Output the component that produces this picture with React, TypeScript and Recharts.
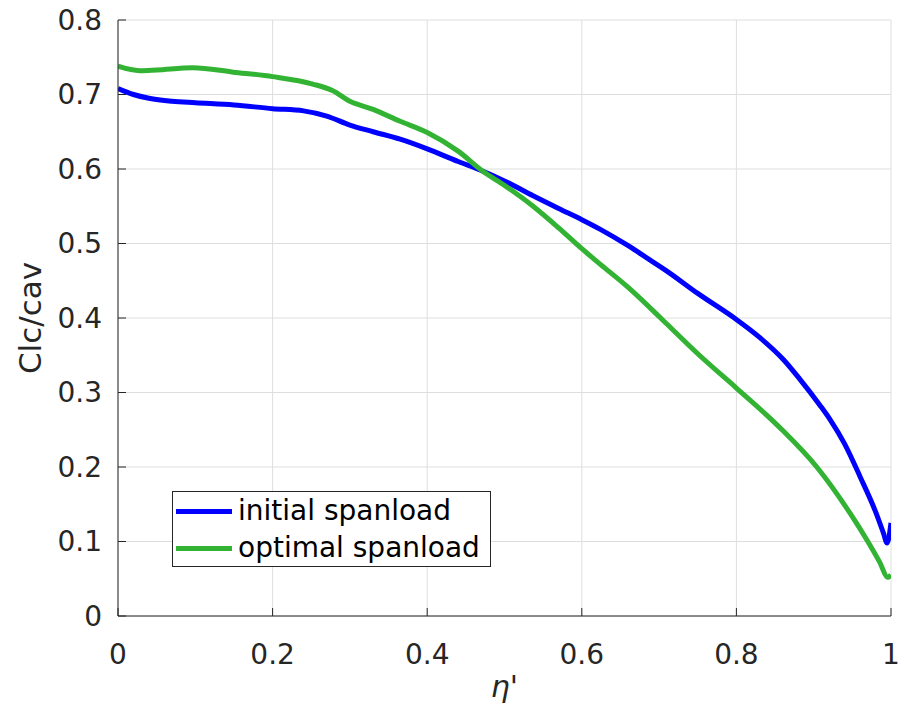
import { LineChart, Line, XAxis, YAxis, CartesianGrid } from "recharts";

// spanwise station eta'
const initialEta = [
  0, 0.02, 0.04, 0.07, 0.1, 0.15, 0.2, 0.24, 0.27, 0.3, 0.33, 0.365, 0.4, 0.44, 0.47, 0.5,
  0.537, 0.57, 0.6, 0.624, 0.66, 0.688, 0.71, 0.75, 0.8, 0.83, 0.861, 0.882, 0.908, 0.921,
  0.94, 0.96, 0.98, 0.99, 0.995, 1,
];
const initialLoad = [
  0.708, 0.7, 0.695, 0.691, 0.689, 0.686, 0.681, 0.678, 0.671, 0.659, 0.65, 0.64, 0.627, 0.61,
  0.598, 0.584, 0.564, 0.547, 0.532, 0.519, 0.497, 0.478, 0.463, 0.433, 0.398, 0.374, 0.344,
  0.318, 0.283, 0.264, 0.231, 0.187, 0.14, 0.112, 0.098, 0.125,
];

const optimalEta = [
  0, 0.028, 0.05, 0.097, 0.149, 0.2, 0.252, 0.278, 0.3, 0.33, 0.365, 0.4, 0.44, 0.472, 0.5,
  0.537, 0.57, 0.6, 0.624, 0.66, 0.688, 0.71, 0.75, 0.8, 0.843, 0.86, 0.904, 0.947, 0.97,
  0.985, 0.996, 1,
];
const optimalLoad = [
  0.738, 0.732, 0.733, 0.736, 0.73, 0.724, 0.714, 0.705, 0.691, 0.68, 0.664, 0.649, 0.624,
  0.597, 0.578, 0.55, 0.521, 0.493, 0.472, 0.441, 0.414, 0.392, 0.352, 0.306, 0.266, 0.249, 0.2,
  0.138, 0.1, 0.073, 0.052, 0.055,
];

const xTicks = [0, 0.2, 0.4, 0.6, 0.8, 1];
const yTicks = [0, 0.1, 0.2, 0.3, 0.4, 0.5, 0.6, 0.7, 0.8];

const initialData = initialEta.map((x, i) => ({ x, y: initialLoad[i] }));
const optimalData = optimalEta.map((x, i) => ({ x, y: optimalLoad[i] }));

const FONT = "'DejaVu Sans', sans-serif";
const BLUE = "#0000ff";
const GREEN = "#33b333";

const legendItems = [
  { name: "initial spanload", color: BLUE },
  { name: "optimal spanload", color: GREEN },
];

// legend drawn as a plain box over the plot so it does not eat plot space
const LegendBox = () => (
  <div
    style={{
      position: "absolute",
      left: 172,
      top: 491,
      width: 317,
      height: 74,
      border: "1px solid #262626",
      background: "#fff",
      fontFamily: FONT,
      fontSize: 28,
      color: "#000",
    }}
  >
    {legendItems.map((it) => (
      <div key={it.name} style={{ display: "flex", alignItems: "center", height: 36, marginTop: 1 }}>
        <div style={{ width: 56, height: 5, background: it.color, marginLeft: 3, marginRight: 6 }} />
        <span style={{ lineHeight: "36px" }}>{it.name}</span>
      </div>
    ))}
  </div>
);

export default function App() {
  return (
    <div style={{ position: "absolute", left: 0, top: 0, width: 904, height: 711, background: "#fff" }}>
      <LineChart width={904} height={711} margin={{ top: 20, right: 13, bottom: 0, left: 58 }}>
        <CartesianGrid stroke="#dedede" strokeWidth={1} />
        <XAxis
          type="number"
          dataKey="x"
          domain={[0, 1]}
          ticks={xTicks}
          allowDataOverflow
          height={95}
          stroke="#262626"
          tickSize={-8}
          tickMargin={36}
          tick={{ fill: "#262626", fontFamily: FONT, fontSize: 28 }}
          tickFormatter={(v: number) => String(v)}
          label={{
            value: "η'",
            position: "insideBottom",
            offset: 14,
            style: { fontFamily: FONT, fontSize: 30, fontStyle: "italic", fill: "#262626" },
          }}
        />
        <YAxis
          type="number"
          domain={[0, 0.8]}
          ticks={yTicks}
          allowDataOverflow
          width={60}
          stroke="#262626"
          tickSize={-8}
          tickMargin={24}
          tick={{ fill: "#262626", fontFamily: FONT, fontSize: 28 }}
          tickFormatter={(v: number) => String(v)}
          label={{
            value: "Clc/cav",
            angle: -90,
            position: "insideLeft",
            offset: -28,
            style: { fontFamily: FONT, fontSize: 31, fill: "#262626", textAnchor: "middle" },
          }}
        />
        <Line
          data={initialData}
          dataKey="y"
          name="initial spanload"
          stroke={BLUE}
          strokeWidth={5}
          dot={false}
          type="monotone"
          isAnimationActive={false}
        />
        <Line
          data={optimalData}
          dataKey="y"
          name="optimal spanload"
          stroke={GREEN}
          strokeWidth={5}
          dot={false}
          type="monotone"
          isAnimationActive={false}
        />
      </LineChart>
      <LegendBox />
    </div>
  );
}
